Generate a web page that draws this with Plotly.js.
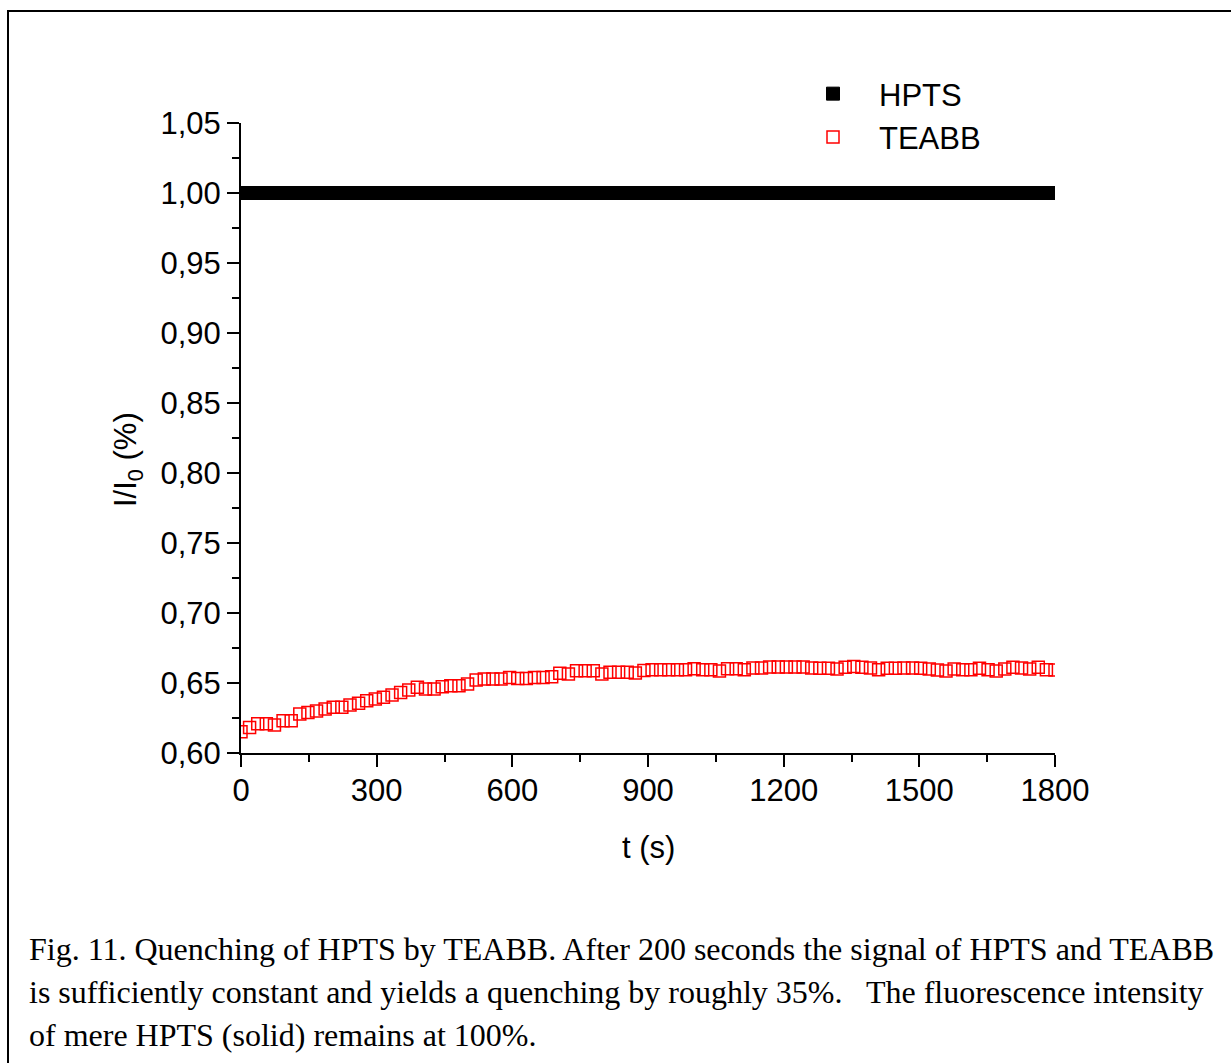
<!DOCTYPE html>
<html>
<head>
<meta charset="utf-8">
<script src="https://cdn.plot.ly/plotly-3.0.1.min.js"></script>
<style>
  html, body { margin: 0; padding: 0; background: #ffffff; overflow: hidden; }
  #wrap { position: relative; width: 1231px; height: 1063px; overflow: hidden; }
  #chart { width: 1231px; height: 1063px; }
  /* figure frame: only its left and top edges fall inside the page */
  #frame {
    position: absolute; left: 7px; top: 10px; width: 1300px; height: 1100px;
    border-left: 2px solid #000000; border-top: 2px solid #000000;
    pointer-events: none; box-sizing: border-box;
  }
</style>
</head>
<body>
<div id="wrap">
  <div id="chart"></div>
  <div id="frame"></div>
</div>
<script>
// Measurement times (s)
const timeS = [
  0, 19, 37, 56, 74, 93, 111, 130, 148, 167,
  186, 204, 223, 241, 260, 278, 297, 315, 334, 353,
  371, 390, 408, 427, 445, 464, 482, 501, 520, 538,
  557, 575, 594, 612, 631, 649, 668, 687, 705, 724,
  742, 761, 779, 798, 816, 835, 854, 872, 891, 909,
  928, 946, 965, 983, 1002, 1021, 1039, 1058, 1076, 1095,
  1113, 1132, 1151, 1169, 1188, 1206, 1225, 1243, 1262, 1280,
  1299, 1318, 1336, 1355, 1373, 1392, 1410, 1429, 1447, 1466,
  1485, 1503, 1522, 1540, 1559, 1577, 1596, 1614, 1633, 1652,
  1670, 1689, 1707, 1726, 1744, 1763, 1781, 1800
];

// Relative intensity I/I0 of HPTS alone
const hpts = [
  1.00, 1.00, 1.00, 1.00, 1.00, 1.00, 1.00, 1.00, 1.00, 1.00,
  1.00, 1.00, 1.00, 1.00, 1.00, 1.00, 1.00, 1.00, 1.00, 1.00,
  1.00, 1.00, 1.00, 1.00, 1.00, 1.00, 1.00, 1.00, 1.00, 1.00,
  1.00, 1.00, 1.00, 1.00, 1.00, 1.00, 1.00, 1.00, 1.00, 1.00,
  1.00, 1.00, 1.00, 1.00, 1.00, 1.00, 1.00, 1.00, 1.00, 1.00,
  1.00, 1.00, 1.00, 1.00, 1.00, 1.00, 1.00, 1.00, 1.00, 1.00,
  1.00, 1.00, 1.00, 1.00, 1.00, 1.00, 1.00, 1.00, 1.00, 1.00,
  1.00, 1.00, 1.00, 1.00, 1.00, 1.00, 1.00, 1.00, 1.00, 1.00,
  1.00, 1.00, 1.00, 1.00, 1.00, 1.00, 1.00, 1.00, 1.00, 1.00,
  1.00, 1.00, 1.00, 1.00, 1.00, 1.00, 1.00, 1.00
];

// Relative intensity I/I0 of HPTS quenched by TEABB
const teabb = [
  0.6152, 0.6183, 0.6209, 0.6209, 0.6200, 0.6231, 0.6231, 0.6279, 0.6290, 0.6300,
  0.6314, 0.6326, 0.6326, 0.6343, 0.6355, 0.6374, 0.6386, 0.6398, 0.6414, 0.6433,
  0.6450, 0.6469, 0.6457, 0.6457, 0.6474, 0.6481, 0.6481, 0.6493, 0.6521, 0.6529,
  0.6529, 0.6529, 0.6540, 0.6533, 0.6533, 0.6540, 0.6540, 0.6545, 0.6569, 0.6564,
  0.6588, 0.6588, 0.6588, 0.6564, 0.6576, 0.6576, 0.6576, 0.6571, 0.6590, 0.6595,
  0.6595, 0.6595, 0.6595, 0.6595, 0.6602, 0.6595, 0.6595, 0.6585, 0.6602, 0.6602,
  0.6595, 0.6607, 0.6607, 0.6614, 0.6614, 0.6614, 0.6614, 0.6614, 0.6607, 0.6605,
  0.6605, 0.6600, 0.6612, 0.6617, 0.6612, 0.6607, 0.6595, 0.6605, 0.6605, 0.6607,
  0.6607, 0.6605, 0.6600, 0.6593, 0.6585, 0.6600, 0.6595, 0.6595, 0.6605, 0.6595,
  0.6586, 0.6600, 0.6612, 0.6607, 0.6600, 0.6612, 0.6595, 0.6593
];

const xTickVals = [0, 300, 600, 900, 1200, 1500, 1800];
const yTickVals = [0.60, 0.65, 0.70, 0.75, 0.80, 0.85, 0.90, 0.95, 1.00, 1.05];

const captionLines = [
  "Fig. 11. Quenching of HPTS by TEABB. After 200 seconds the signal of HPTS and TEABB",
  "is sufficiently constant and yields a quenching by roughly 35%.\u00a0\u00a0 The fluorescence intensity",
  "of mere HPTS (solid) remains at 100%."
];

// Plot box in pixels
const W = 1231, H = 1063;
const L = 241, R = 1055, T = 123, B = 753;
const px = v => (v - L) / (R - L);
const py = v => (B - v) / (B - T);

const sans = "Liberation Sans, Arial, sans-serif";
const serif = "Liberation Serif, Times New Roman, serif";

const traces = [
  {
    x: timeS, y: hpts, name: "HPTS", type: "scatter", mode: "markers",
    marker: { symbol: "square", size: 13, color: "#000000", line: { color: "#000000", width: 1 } }
  },
  {
    x: timeS, y: teabb, name: "TEABB", type: "scatter", mode: "markers",
    marker: { symbol: "square-open", size: 12, color: "#ff0000", line: { color: "#ff0000", width: 1.5 } }
  }
];

const axisCommon = {
  showgrid: false, zeroline: false, showline: true, linecolor: "#000000", linewidth: 2,
  ticks: "outside", ticklen: 12, tickwidth: 2, tickcolor: "#000000",
  tickfont: { family: sans, size: 31, color: "#000000" },
  mirror: false, fixedrange: true
};

const annotations = [
  {
    text: "t (s)", xref: "paper", yref: "paper", x: px(648), y: py(847),
    xanchor: "center", yanchor: "middle", showarrow: false,
    font: { family: sans, size: 31, color: "#000000" }
  },
  {
    text: "I/I<sub>0</sub> (%)", xref: "paper", yref: "paper", x: px(128), y: py(459),
    xanchor: "center", yanchor: "middle", showarrow: false, textangle: -90,
    font: { family: sans, size: 31, color: "#000000" }
  }
];
const captionY = [949, 992, 1035];
captionLines.forEach((line, i) => {
  annotations.push({
    text: line, xref: "paper", yref: "paper", x: px(27), y: py(captionY[i]),
    xanchor: "left", yanchor: "middle", showarrow: false, align: "left",
    font: { family: serif, size: 32, color: "#000000" }
  });
});

const layout = {
  width: W, height: H,
  margin: { l: L, r: W - R, t: T, b: H - B, pad: 0 },
  paper_bgcolor: "#ffffff", plot_bgcolor: "#ffffff",
  separators: ",.",
  showlegend: true,
  legend: {
    x: px(787), y: py(67), xanchor: "left", yanchor: "top",
    bgcolor: "rgba(0,0,0,0)", borderwidth: 0, itemwidth: 82,
    font: { family: sans, size: 31, color: "#000000" },
    tracegroupgap: 0
  },
  xaxis: Object.assign({}, axisCommon, {
    range: [0, 1800], tickmode: "array", tickvals: xTickVals,
    ticktext: xTickVals.map(String), ticklabelstandoff: -3,
    minor: { dtick: 150, tick0: 0, ticklen: 7, tickwidth: 2, tickcolor: "#000000", ticks: "outside", showgrid: false }
  }),
  yaxis: Object.assign({}, axisCommon, {
    range: [0.60, 1.05], tickmode: "array", tickvals: yTickVals,
    ticktext: yTickVals.map(v => v.toFixed(2).replace(".", ",")),
    minor: { dtick: 0.025, tick0: 0.6, ticklen: 7, tickwidth: 2, tickcolor: "#000000", ticks: "outside", showgrid: false }
  }),
  annotations: annotations
};

Plotly.newPlot("chart", traces, layout, { displayModeBar: false, staticPlot: true });
</script>
</body>
</html>
